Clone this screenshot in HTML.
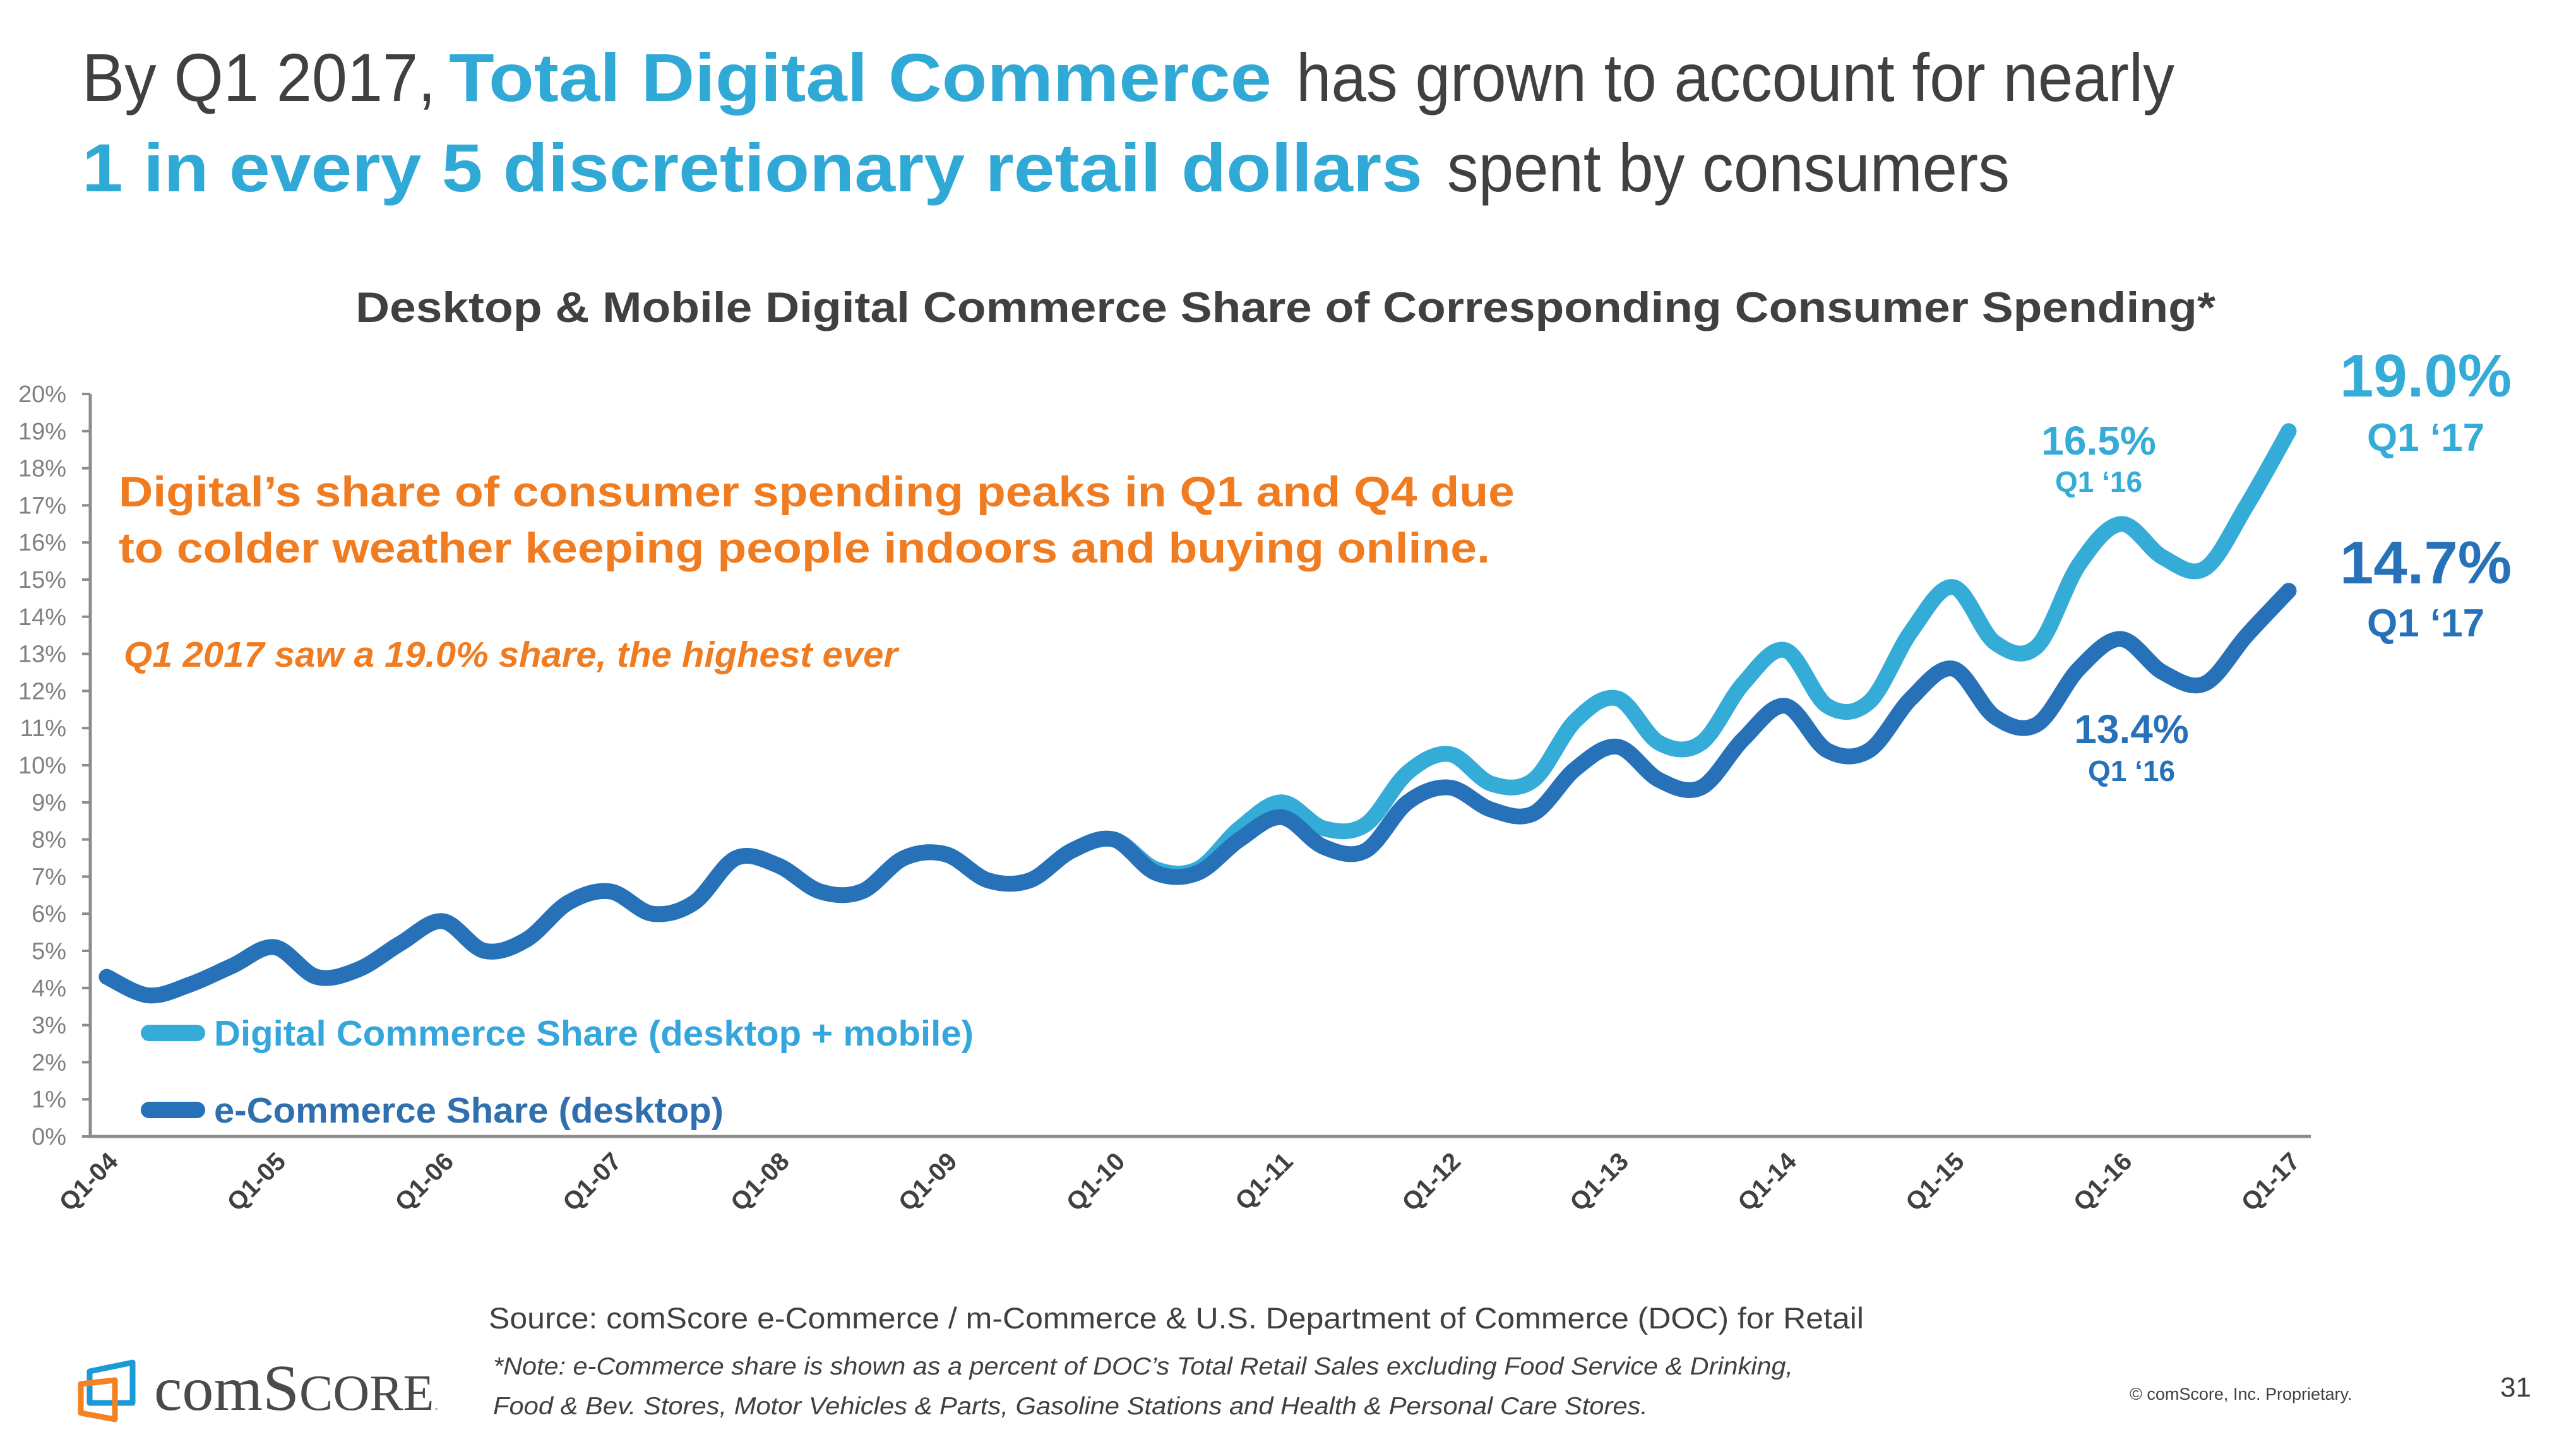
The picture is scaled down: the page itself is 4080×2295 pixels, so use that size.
<!DOCTYPE html>
<html><head><meta charset="utf-8">
<style>
html,body{margin:0;padding:0;background:#fff;}
body{width:4080px;height:2295px;overflow:hidden;position:relative;font-family:"Liberation Sans",sans-serif;}
svg{position:absolute;left:0;top:0;}
</style></head>
<body>
<svg width="4080" height="2295" viewBox="0 0 4080 2295">
  <g font-size="108" fill="#404040">
    <text x="130" y="160" textLength="560" lengthAdjust="spacingAndGlyphs">By Q1 2017,</text>
    <text x="711" y="160" textLength="1303" lengthAdjust="spacingAndGlyphs" font-weight="bold" fill="#31a9d6">Total Digital Commerce</text>
    <text x="2053" y="160" textLength="1391" lengthAdjust="spacingAndGlyphs">has grown to account for nearly</text>
    <text x="130" y="303" textLength="2123" lengthAdjust="spacingAndGlyphs" font-weight="bold" fill="#31a9d6">1 in every 5 discretionary retail dollars</text>
    <text x="2292" y="303" textLength="891" lengthAdjust="spacingAndGlyphs">spent by consumers</text>
  </g>
  <text x="563" y="510" textLength="2946" lengthAdjust="spacingAndGlyphs" font-size="68" font-weight="bold" fill="#404040">Desktop &amp; Mobile Digital Commerce Share of Corresponding Consumer Spending*</text>

  <g id="yaxis"></g>
  <g id="xaxis"></g>
  <g id="series"></g>

  <g fill="#f07c22" font-weight="bold">
    <text x="188" y="802" font-size="68" textLength="2211" lengthAdjust="spacingAndGlyphs">Digital’s share of consumer spending peaks in Q1 and Q4 due</text>
    <text x="188" y="891" font-size="68" textLength="2172" lengthAdjust="spacingAndGlyphs">to colder weather keeping people indoors and buying online.</text>
    <text x="196" y="1056" font-size="57" textLength="1226" lengthAdjust="spacingAndGlyphs" font-style="italic">Q1 2017 saw a 19.0% share, the highest ever</text>
  </g>

  <g>
    <line x1="236" y1="1636" x2="312" y2="1636" stroke="#35acd8" stroke-width="26" stroke-linecap="round"/>
    <text x="339" y="1656" font-size="57" textLength="1203" lengthAdjust="spacingAndGlyphs" font-weight="bold" fill="#35a6dc">Digital Commerce Share (desktop + mobile)</text>
    <line x1="236" y1="1758" x2="312" y2="1758" stroke="#2771b9" stroke-width="26" stroke-linecap="round"/>
    <text x="339" y="1778" font-size="57" textLength="807" lengthAdjust="spacingAndGlyphs" font-weight="bold" fill="#2f6fad">e-Commerce Share (desktop)</text>
  </g>

  <g font-weight="bold" text-anchor="middle">
    <text x="3842" y="628" font-size="96" fill="#35acd8">19.0%</text>
    <text x="3842" y="714" font-size="62" fill="#35acd8">Q1 ‘17</text>
    <text x="3842" y="924" font-size="96" fill="#2771b9">14.7%</text>
    <text x="3842" y="1008" font-size="62" fill="#2771b9">Q1 ‘17</text>
    <text x="3324" y="720" font-size="64" fill="#35acd8">16.5%</text>
    <text x="3324" y="779" font-size="46" fill="#35acd8">Q1 ‘16</text>
    <text x="3376" y="1177" font-size="64" fill="#2771b9">13.4%</text>
    <text x="3376" y="1237" font-size="46" fill="#2771b9">Q1 ‘16</text>
  </g>

  <g fill="#404040">
    <text x="774" y="2104" font-size="47" textLength="2178" lengthAdjust="spacingAndGlyphs">Source: comScore e-Commerce / m-Commerce &amp; U.S. Department of Commerce (DOC) for Retail</text>
    <text x="781" y="2177" font-size="39" textLength="2059" lengthAdjust="spacingAndGlyphs" font-style="italic">*Note: e-Commerce share is shown as a percent of DOC’s Total Retail Sales excluding Food Service &amp; Drinking,</text>
    <text x="781" y="2240" font-size="39" textLength="1829" lengthAdjust="spacingAndGlyphs" font-style="italic">Food &amp; Bev. Stores,  Motor Vehicles &amp; Parts, Gasoline Stations and Health &amp; Personal Care Stores.</text>
    <text x="3373" y="2217" font-size="27">© comScore, Inc. Proprietary.</text>
    <text x="3960" y="2212" font-size="44">31</text>
  </g>

  <g>
    <path d="M142 2172 L210 2158 L210 2222 L142 2222 Z" fill="none" stroke="#1a9ad6" stroke-width="9" stroke-linejoin="round"/>
    <path d="M128 2192 L182 2186 L182 2248 L128 2238 Z" fill="none" stroke="#f58220" stroke-width="9" stroke-linejoin="round"/>
    <text x="244" y="2233" font-family="Liberation Serif, serif" font-size="100" fill="#4a4a4a">com<tspan font-size="104">S</tspan><tspan font-size="80">CORE</tspan><tspan font-size="30" fill="#aaa">.</tspan></text>
  </g>
</svg>
<script>
// chart data (percent share per quarter, Q1-04 .. Q1-17)
const yearLabels = ["Q1-04","Q1-05","Q1-06","Q1-07","Q1-08","Q1-09","Q1-10","Q1-11","Q1-12","Q1-13","Q1-14","Q1-15","Q1-16","Q1-17"];
const yTicks = [0,1,2,3,4,5,6,7,8,9,10,11,12,13,14,15,16,17,18,19,20];
const ecommerceShare = [4.3,3.8,4.1,4.6,5.1,4.3,4.5,5.2,5.8,5.0,5.3,6.3,6.6,6.0,6.3,7.5,7.3,6.6,6.6,7.5,7.6,6.9,6.9,7.7,8.0,7.1,7.1,8.0,8.6,7.8,7.7,9.0,9.4,8.8,8.7,9.9,10.5,9.6,9.4,10.7,11.6,10.4,10.4,11.8,12.6,11.3,11.1,12.6,13.4,12.5,12.2,13.5,14.7];
const digitalShare = [4.3,3.8,4.1,4.6,5.1,4.3,4.5,5.2,5.8,5.0,5.3,6.3,6.6,6.0,6.3,7.5,7.3,6.6,6.6,7.5,7.6,6.9,6.9,7.7,8.0,7.2,7.2,8.3,9.0,8.3,8.4,9.8,10.3,9.5,9.6,11.2,11.8,10.6,10.6,12.2,13.1,11.6,11.7,13.6,14.8,13.3,13.2,15.4,16.5,15.6,15.3,17.0,19.0];

const NS = "http://www.w3.org/2000/svg";
const X0 = 169, X1 = 3625, Y0 = 1800, Y20 = 624;
const nQ = ecommerceShare.length;
function xScale(i){ return X0 + (X1 - X0) * i / (nQ - 1); }
function yScale(v){ return Y0 - (Y0 - Y20) * v / 20; }
function mk(tag, attrs){ const e = document.createElementNS(NS, tag); for (const k in attrs) e.setAttribute(k, attrs[k]); return e; }

const yg = document.getElementById('yaxis');
const ax = mk('line', {x1:143, y1:Y20, x2:143, y2:Y0+2, stroke:'#8c8c8c', 'stroke-width':5});


yg.appendChild(ax);
yTicks.forEach(t => {
  const y = yScale(t);
  const tk = mk('line', {x1:130, y1:y, x2:143, y2:y, stroke:'#8c8c8c', 'stroke-width':4});
  
  
  yg.appendChild(tk);
  const tx = mk('text', {x:105, y:y+13, 'text-anchor':'end', 'font-size':38, fill:'#808080'});
  tx.textContent = t + '%';
  
  
  yg.appendChild(tx);
});

const xg = document.getElementById('xaxis');
const xl = mk('line', {x1:141, y1:Y0, x2:3660, y2:Y0, stroke:'#8c8c8c', 'stroke-width':5});


xg.appendChild(xl);
yearLabels.forEach((lab, k) => {
  const x = xScale(k * 4) + 20;
  const tx = mk('text', {x:x, y:1842, 'text-anchor':'end', 'font-size':40, 'font-weight':'bold', fill:'#404040', transform:'rotate(-45 ' + x + ' 1842)'});
  tx.textContent = lab;
  
  
  xg.appendChild(tx);
});

function smoothPath(vals){
  const p = vals.map((v,i) => [xScale(i), yScale(v)]);
  let d = 'M' + p[0][0] + ' ' + p[0][1];
  for (let i = 0; i < p.length - 1; i++){
    const a = p[Math.max(0,i-1)], b = p[i], c = p[i+1], e = p[Math.min(p.length-1,i+2)];
    const c1 = [b[0] + (c[0]-a[0])/6, b[1] + (c[1]-a[1])/6];
    const c2 = [c[0] - (e[0]-b[0])/6, c[1] - (e[1]-b[1])/6];
    d += ' C' + c1[0] + ' ' + c1[1] + ' ' + c2[0] + ' ' + c2[1] + ' ' + c[0] + ' ' + c[1];
  }
  return d;
}
const sg = document.getElementById('series');
const l1 = mk('path', {d:smoothPath(digitalShare), fill:'none', stroke:'#35acd8', 'stroke-width':25, 'stroke-linecap':'round', 'stroke-linejoin':'round'});


sg.appendChild(l1);
const l2 = mk('path', {d:smoothPath(ecommerceShare), fill:'none', stroke:'#2771b9', 'stroke-width':25, 'stroke-linecap':'round', 'stroke-linejoin':'round'});


sg.appendChild(l2);
</script>
</body></html>
